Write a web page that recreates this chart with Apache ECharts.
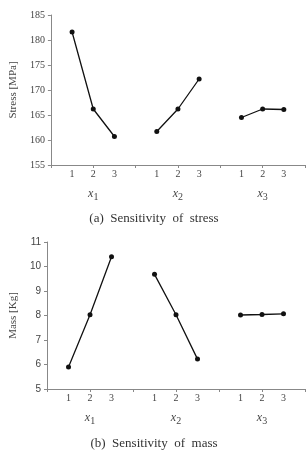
<!DOCTYPE html>
<html>
<head>
<meta charset="utf-8">
<script src="https://cdn.jsdelivr.net/npm/echarts@6/dist/echarts.min.js"></script>
<style>
  html, body { margin: 0; padding: 0; background: #fff; }
  #chart { width: 308px; height: 451px; }
</style>
</head>
<body>
<div id="chart"></div>
<script>
// levels and factors
const levels = ["1", "2", "3"];
const factors = ["1", "2", "3"]; // subscripts of x
const stressTicks = [155, 160, 165, 170, 175, 180, 185];
const massTicks = [5, 6, 7, 8, 9, 10, 11];

// one row per factor
const stressX1 = [181.6, 166.2, 160.7];
const stressX2 = [161.7, 166.2, 172.2];
const stressX3 = [164.5, 166.2, 166.1];
const massX1 = [5.9, 8.03, 10.4];
const massX2 = [9.68, 8.03, 6.22];
const massX3 = [8.02, 8.04, 8.07];

const FONT = "Liberation Serif";
const TXT = "#444";
const AX = "#888";

// factor f (0..2), level l (0..2) -> position on the x value axis
const pos = (f, l) => f * 4 + l + 1;

const levelLabel = (v) => {
  const l = v % 4;
  return l >= 1 && l <= 3 ? levels[l - 1] : "";
};
const factorLabel = (v) => {
  if (v % 4 !== 2) return "";
  return "{i|x}{s|" + factors[(v - 2) / 4] + "}";
};

function xAxes(gridIndex) {
  return [
    {
      gridIndex, type: "value", min: 0, max: 12, interval: 2,
      axisLine: { lineStyle: { color: AX, width: 1 } },
      axisTick: { show: true, length: 3, inside: false, lineStyle: { color: AX } },
      axisLabel: { show: false },
      splitLine: { show: false }
    },
    {
      gridIndex, type: "value", min: 0, max: 12, interval: 1, position: "bottom",
      axisLine: { show: false }, axisTick: { show: false }, splitLine: { show: false },
      axisLabel: { margin: 4, formatter: levelLabel, color: TXT, fontFamily: FONT, fontSize: 10 }
    },
    {
      gridIndex, type: "value", min: 0, max: 12, interval: 2, position: "bottom", offset: 20,
      axisLine: { show: false }, axisTick: { show: false }, splitLine: { show: false },
      axisLabel: {
        margin: 0, formatter: factorLabel, color: TXT, fontFamily: FONT,
        rich: {
          i: { fontStyle: "italic", fontSize: 12, fontFamily: FONT, color: TXT },
          s: { fontSize: 10, fontFamily: FONT, color: TXT, padding: [7, 0, 0, 0] }
        }
      }
    }
  ];
}

function yAxis(gridIndex, ticks, name, gap, labelFont) {
  return {
    gridIndex, type: "value",
    min: ticks[0], max: ticks[ticks.length - 1], interval: ticks[1] - ticks[0],
    name, nameLocation: "middle", nameGap: gap,
    nameTextStyle: { color: TXT, fontFamily: FONT, fontSize: 11 },
    axisLine: { show: true, lineStyle: { color: AX, width: 1 } },
    axisTick: { show: true, length: 3, lineStyle: { color: AX } },
    axisLabel: { color: TXT, fontFamily: labelFont, fontSize: 10, margin: 6 },
    splitLine: { show: false }
  };
}

function lineSeries(values, f, xAxisIndex, yAxisIndex) {
  return {
    type: "line", xAxisIndex, yAxisIndex,
    data: values.map((v, l) => [pos(f, l), v]),
    symbol: "circle", symbolSize: 5,
    itemStyle: { color: "#111" },
    lineStyle: { color: "#111", width: 1.3 },
    animation: false
  };
}

const chart = echarts.init(document.getElementById("chart"));
chart.setOption({
  backgroundColor: "#fff",
  title: [
    { text: "(a)  Sensitivity  of  stress", left: "center", top: 207,
      textStyle: { fontFamily: FONT, fontSize: 13, fontWeight: "normal", color: "#333" } },
    { text: "(b)  Sensitivity  of  mass", left: "center", top: 432,
      textStyle: { fontFamily: FONT, fontSize: 13, fontWeight: "normal", color: "#333" } }
  ],
  grid: [
    { left: 44, top: 15, width: 264, height: 150 },
    { left: 39, top: 242, width: 269, height: 147 }
  ],
  xAxis: [...xAxes(0), ...xAxes(1)],
  yAxis: [
    yAxis(0, stressTicks, "Stress [MPa]", 29, FONT),
    yAxis(1, massTicks, "Mass [Kg]", 24, "Liberation Sans")
  ],
  series: [
    lineSeries(stressX1, 0, 0, 0),
    lineSeries(stressX2, 1, 0, 0),
    lineSeries(stressX3, 2, 0, 0),
    lineSeries(massX1, 0, 3, 1),
    lineSeries(massX2, 1, 3, 1),
    lineSeries(massX3, 2, 3, 1)
  ]
});
</script>
</body>
</html>
